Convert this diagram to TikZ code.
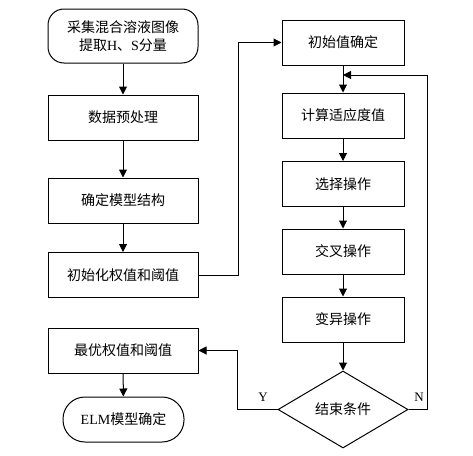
\documentclass[tikz,border=0pt]{standalone}
\usepackage{fontspec}
\setmainfont{Liberation Serif}
\newfontfamily\cjk{Noto Sans CJK SC}
\usetikzlibrary{shapes.geometric,arrows.meta}
\begin{document}
\begin{tikzpicture}[x=1pt,y=-1pt,
  every node/.style={font=\fontsize{14}{17.5}\selectfont\cjk},
  box/.style={draw,line width=1pt,rectangle,inner sep=0pt,minimum height=45pt},
  lbox/.style={box,minimum width=150pt},
  rbox/.style={box,minimum width=122pt},
  term/.style={draw,line width=1pt,rectangle,rounded corners=16pt,inner sep=0pt,align=center},
  dec/.style={draw,line width=1pt,diamond,inner sep=0pt,minimum width=130pt,minimum height=77pt},
  conn/.style={line width=1pt},
  arr/.style={conn,-{Triangle[length=8pt,width=8pt]}},
  lab/.style={font=\fontsize{13}{15}\selectfont\rmfamily}
]
\useasboundingbox (0,0) rectangle (473,455);
\node[term,minimum width=150pt,minimum height=54pt] (B1) at (123,36)
  {采集混合溶液图像\\提取{\rmfamily H}、{\rmfamily S}分量};
\node[lbox] (B2) at (123,117.5) {数据预处理};
\node[lbox] (B3) at (123,200.5) {确定模型结构};
\node[lbox] (B4) at (123,275) {初始化权值和阈值};
\node[lbox] (B5) at (123,350.5) {最优权值和阈值};
\node[term,rounded corners=22pt,minimum width=121pt,minimum height=45pt] (B6) at (123.5,419.5) {{\rmfamily ELM}模型确定};
\node[rbox] (R1) at (343,42.5) {初始值确定};
\node[rbox] (R2) at (343,115.5) {计算适应度值};
\node[rbox] (R3) at (343,184) {选择操作};
\node[rbox] (R4) at (343,251.5) {交叉操作};
\node[rbox] (R5) at (343,319.5) {变异操作};
\node[dec] (D) at (343,409.5) {结束条件};
\coordinate (fb) at (343,75);
\draw[arr] (B1) -- (B2);
\draw[arr] (B2) -- (B3);
\draw[arr] (B3) -- (B4);
\draw[arr] (B5) -- (B6);
\draw[arr] (B4.east) -- ++(40,0) |- (R1.west);
\draw[arr] (R1) -- (R2);
\draw[arr] (R2) -- (R3);
\draw[arr] (R3) -- (R4);
\draw[arr] (R4) -- (R5);
\draw[arr] (R5) -- (D);
\draw[arr] (D.east) -- ++(19,0) |- (fb);
\draw[arr] (D.west) -- ++(-40,0) |- (B5.east);
\node[lab] (Y) at (263,397) {Y};
\node[lab] (N) at (419,397) {N};
\end{tikzpicture}
\end{document}
